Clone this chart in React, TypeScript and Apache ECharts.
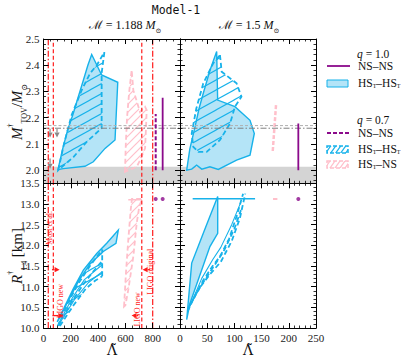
import React, { useEffect, useRef } from 'react';
import * as echarts from 'echarts';

// ---------------- data ----------------
const TITLE = 'Model-1';
const CHIRP_MASSES = ['1.188', '1.5'];

const LEFT_X = { min: 0, max: 1000, interval: 200, minor: 4 };
const RIGHT_X = { min: 0, max: 250, interval: 50, minor: 5 };
const MTOV_Y = { min: 1.95, max: 2.5 };
const R14_Y = { min: 10.0, max: 13.5, interval: 0.5 };

// top-left (M = 1.188): [Lambda, M_TOV]
const TL_Q10_HSHS: number[][] = [[106, 2.002], [140, 2.08], [175, 2.15], [218, 2.216], [255, 2.28], [292, 2.343], [325, 2.4], [353, 2.441], [426, 2.363], [544, 2.335], [524, 2.115], [451, 2.083], [365, 2.032], [304, 2.015], [145, 2.006]];
const TL_Q07_HSHS: number[][] = [[108, 2.0], [150, 2.1], [206, 2.21], [280, 2.305], [341, 2.369], [390, 2.4], [446, 2.45], [426, 2.37], [426, 2.16], [320, 2.11], [219, 2.05]];
const TL_Q07_HSNS: number[][] = [[597, 1.994], [603, 2.1], [612, 2.2], [628, 2.3], [646, 2.382], [658, 2.305], [707, 2.222], [744, 2.242], [756, 2.229], [750, 2.15], [744, 2.083], [707, 2.038], [683, 2.013]];
const TL_NSNS_Q10: number[][] = [[873, 2.0], [873, 2.276]];
const TL_NSNS_Q07: number[][] = [[822, 2.0], [822, 2.214]];
const TL_GRAY_ARROWS: number[][] = [[48, 2.158, 48, 2.125], [99, 2.158, 99, 2.125], [48, 2.045, 48, 2.005]];

// top-right (M = 1.5)
const TR_Q10_HSHS: number[][] = [[12.3, 2.0], [18, 2.08], [27.6, 2.165], [35, 2.235], [42.8, 2.293], [55, 2.38], [67.4, 2.452], [69.2, 2.267], [101, 2.242], [128.7, 2.19], [136.6, 2.14], [128.7, 2.057], [104, 2.038], [70.4, 2.003], [55, 2.013], [40, 2.004], [30.6, 2.019], [21.5, 2.004]];
const TR_Q07_HSHS: number[][] = [[73.5, 2.439], [76.6, 2.375], [104, 2.331], [113, 2.28], [101, 2.242], [92, 2.178], [73.5, 2.115], [49, 2.07], [33.7, 2.07], [24.4, 2.089], [21.5, 2.14], [30, 2.235], [42.8, 2.331], [61, 2.407]];
const TR_Q07_HSNS: number[][] = [[176.5, 2.248], [170.4, 2.07]];
const TR_NSNS_Q10: number[][] = [[217.5, 2.0], [217.5, 2.178]];

// lower limits band and max-mass lines
const MMAX_BAND = [1.95, 2.013];
const MMAX_LINES = [2.17, 2.16];

// bottom-left (M = 1.188): [Lambda, R_1.4]
const BL_Q10_HSHS: number[][] = [[100, 10.15], [145, 10.45], [218, 10.95], [292, 11.4], [390, 11.8], [463, 12.05], [548, 12.37], [531, 12.05], [438, 11.85], [341, 11.55], [260, 11.15], [180, 10.65], [120, 10.25]];
const BL_Q07_D1: number[][] = [[105, 10.05], [180, 10.62], [260, 11.1], [340, 11.5], [430, 11.9]];
const BL_Q07_D2: number[][] = [[110, 10.05], [200, 10.6], [290, 11.05], [360, 11.35], [430, 11.62]];
const BL_Q07_D3: number[][] = [[120, 10.05], [220, 10.55], [310, 10.95], [380, 11.15], [430, 11.25]];
const BL_Q07_V: number[][] = [[430, 11.25], [430, 11.9]];
const BL_Q10_S1: number[][] = [[110, 10.1], [210, 10.72], [300, 11.17], [430, 11.53]];
const BL_Q10_S2: number[][] = [[115, 10.1], [230, 10.7], [330, 11.1], [430, 11.36]];
const BL_Q07_HSNS: number[][] = [[590, 10.52], [604, 11.33], [621, 12.13], [639, 12.86], [648, 13.12], [720, 13.12], [700, 12.9], [683, 12.54], [658, 11.73], [621, 10.92], [600, 10.55]];
const BL_Q07_HSNS_CAP: number[][] = [[621, 13.1], [720, 13.1]];
const BL_NSNS: number[][] = [[822, 13.12], [873, 13.12]];

// bottom-right (M = 1.5)
const BR_Q10_HSHS: number[][] = [[12.3, 10.2], [21.5, 11.57], [42.8, 12.29], [69.3, 13.18], [69.3, 12.29], [55, 11.97], [18.4, 10.6]];
const BR_Q10_CAP: number[][] = [[23.3, 13.125], [138, 13.125]];
const BR_Q07_D1: number[][] = [[14, 10.4], [30, 10.85], [43, 11.16], [60, 11.5], [73.5, 11.73], [90, 12.15], [104, 12.7], [116, 13.25]];
const BR_Q07_D2: number[][] = [[16, 10.5], [35, 10.95], [55, 11.3], [75, 11.6], [95, 12.1], [110, 12.65], [120, 13.25]];
const BR_Q07_D3: number[][] = [[18, 10.55], [40, 11.05], [60, 11.45], [80, 11.85], [100, 12.4], [112, 12.85]];
const BR_Q10_S1: number[][] = [[14, 10.4], [40, 11.2], [60, 11.65], [75, 11.95], [95, 12.5], [112, 13.05]];
const BR_Q07_HSNS: number[][] = [[171, 13.12], [179, 13.12]];
const BR_NSNS: number[][] = [[217.5, 13.12]];

// observational constraints (Lambda)
const RED_LINES: { x: number; dash: 'dd' | 'd' }[] = [{ x: 35, dash: 'dd' }, { x: 72, dash: 'd' }, { x: 720, dash: 'd' }, { x: 800, dash: 'dd' }];
const RED_ARROWS: number[][] = [[62, 11.41, 118, 11.41], [65, 10.3, 145, 10.3], [780, 11.41, 726, 11.41], [695, 10.3, 645, 10.3]];
const RED_LABELS: { t: string; x: number; y: number }[] = [
  { t: 'Most et al.', x: 47, y: 12.42 },
  { t: 'LIGO new', x: 121, y: 10.65 },
  { t: 'LIGO new', x: 688, y: 10.45 },
  { t: 'LIGO original', x: 784, y: 11.36 },
];

// ---------------- style ----------------
const SERIF = '"Liberation Serif", "DejaVu Serif", serif';
const BLUE = '#17b2ea';
const BLUE_FILL = '#b4e4f7';
const PINK = '#ffbfca';
const PURPLE = '#8b0a8b';
const RED = '#ff1a1a';
const DASH = [5, 3];
const DASHDOT = [6, 2, 1.5, 2];

const GRIDS = [
  { left: 43.5, top: 39, width: 136.5, height: 144.3 },
  { left: 180, top: 39, width: 136, height: 144.3 },
  { left: 43.5, top: 183.3, width: 136.5, height: 144.7 },
  { left: 180, top: 183.3, width: 136, height: 144.7 },
];

function makeHatch(color: string, w: number, h: number, lw: number) {
  const c = document.createElement('canvas');
  c.width = w;
  c.height = h;
  const ctx = c.getContext('2d')!;
  ctx.strokeStyle = color;
  ctx.lineWidth = lw;
  for (let k = -1; k <= 1; k++) {
    ctx.beginPath();
    ctx.moveTo((k - 1) * w, 2 * h);
    ctx.lineTo((k + 2) * w, -h);
    ctx.stroke();
  }
  return { image: c.toDataURL(), repeat: 'repeat', imageWidth: w, imageHeight: h } as any;
}

function buildOption() {
  const blueHatch = makeHatch(BLUE, 18, 10, 1.1);
  const pinkHatch = makeHatch(PINK, 8, 8, 1.2);

  const xAxes: any[] = [];
  const yAxes: any[] = [];
  GRIDS.forEach((_, g) => {
    const xr = g % 2 === 0 ? LEFT_X : RIGHT_X;
    const top = g < 2;
    const common = {
      type: 'value', gridIndex: g, z: 10,
      axisLine: { show: true, onZero: false, lineStyle: { color: '#000', width: 1 } },
      axisTick: { show: true, inside: true, length: 5, lineStyle: { color: '#000', width: 1 } },
      minorTick: { show: true, length: 2.5, lineStyle: { color: '#000', width: 0.8 } },
      splitLine: { show: false },
      minorSplitLine: { show: false },
    };
    [0, 1].forEach((k) => {
      xAxes.push({
        ...common,
        position: k === 0 ? 'bottom' : 'top',
        min: xr.min, max: xr.max, interval: xr.interval,
        minorTick: { ...common.minorTick, splitNumber: xr.minor },
        axisLabel: {
          show: k === 0 && !top, fontFamily: SERIF, fontSize: 11, color: '#222', margin: 4,
          showMaxLabel: g % 2 === 1,
        },
      });
    });
    [0, 1].forEach((k) => {
      const ycfg: any = top
        ? { min: MTOV_Y.min, max: MTOV_Y.max, splitNumber: 5 }
        : { min: R14_Y.min, max: R14_Y.max, interval: R14_Y.interval };
      yAxes.push({
        ...common,
        ...ycfg,
        position: k === 0 ? 'left' : 'right',
        minorTick: { ...common.minorTick, splitNumber: 5 },
        axisLabel: {
          show: k === 0 && g % 2 === 0, fontFamily: SERIF, fontSize: 11, color: '#222', margin: 4,
          showMinLabel: !top, formatter: (v: number) => v.toFixed(1),
        },
      });
    });
  });

  const series: any[] = [];
  const ax = (g: number) => ({ xAxisIndex: 2 * g, yAxisIndex: 2 * g });

  const poly = (g: number, pts: number[][], style: any, z: number) => {
    series.push({
      type: 'custom', ...ax(g), z, silent: true, data: [pts[0]],
      renderItem: (_p: any, api: any) => ({
        type: 'polygon', shape: { points: pts.map((p) => api.coord(p)) }, style,
      }),
    });
  };
  const line = (g: number, pts: number[][], color: string, width: number, type: any, z: number) => {
    series.push({
      type: 'line', ...ax(g), z, silent: true, data: pts, symbol: 'none', showSymbol: false,
      lineStyle: { color, width, type }, animation: false,
    });
  };
  const dots = (g: number, pts: number[][], color: string, size: number) => {
    series.push({ type: 'scatter', ...ax(g), z: 6, silent: true, data: pts, symbol: 'circle', symbolSize: size, itemStyle: { color } });
  };
  const arrows = (g: number, data: number[][], color: string, lw: number) => {
    series.push({
      type: 'custom', ...ax(g), z: 7, silent: true, data,
      renderItem: (_p: any, api: any) => {
        const a = api.coord([api.value(0), api.value(1)]);
        const b = api.coord([api.value(2), api.value(3)]);
        const ang = Math.atan2(b[1] - a[1], b[0] - a[0]);
        const c = Math.cos(ang), s = Math.sin(ang);
        const hl = 5, hw = 2.6;
        const bx = b[0] - hl * c, by = b[1] - hl * s;
        return {
          type: 'group',
          children: [
            { type: 'line', shape: { x1: a[0], y1: a[1], x2: bx, y2: by }, style: { stroke: color, lineWidth: lw } },
            { type: 'polygon', shape: { points: [b, [bx - hw * s, by + hw * c], [bx + hw * s, by - hw * c]] }, style: { fill: color } },
          ],
        };
      },
    });
  };

  // gray band + max-mass lines (top panels)
  [0, 1].forEach((g) => {
    const xr = g === 0 ? LEFT_X : RIGHT_X;
    poly(g, [[xr.min, MMAX_BAND[0]], [xr.max, MMAX_BAND[0]], [xr.max, MMAX_BAND[1]], [xr.min, MMAX_BAND[1]]], { fill: '#d4d4d4' }, 1);
    line(g, [[xr.min, MMAX_LINES[0]], [xr.max, MMAX_LINES[0]]], '#b0b0b0', 1, [3, 2], 5);
    line(g, [[xr.min, MMAX_LINES[1]], [xr.max, MMAX_LINES[1]]], '#808080', 1, DASHDOT, 5);
  });

  // top-left
  poly(0, TL_Q10_HSHS, { fill: BLUE_FILL, stroke: BLUE, lineWidth: 1.4 }, 2);
  poly(0, TL_Q07_HSHS, { fill: blueHatch, stroke: BLUE, lineWidth: 1.8, lineDash: DASH }, 3);
  poly(0, TL_Q07_HSNS, { fill: pinkHatch, stroke: PINK, lineWidth: 1.8, lineDash: DASH }, 3);
  line(0, TL_NSNS_Q10, PURPLE, 1.8, 'solid', 6);
  line(0, TL_NSNS_Q07, PURPLE, 2, [4, 2], 6);
  arrows(0, TL_GRAY_ARROWS, '#8a8a8a', 1.2);

  // top-right
  poly(1, TR_Q10_HSHS, { fill: BLUE_FILL, stroke: BLUE, lineWidth: 1.4 }, 2);
  poly(1, TR_Q07_HSHS, { fill: blueHatch, stroke: BLUE, lineWidth: 1.8, lineDash: DASH }, 3);
  line(1, TR_Q07_HSNS, PINK, 2.5, [4, 2], 4);
  line(1, TR_NSNS_Q10, PURPLE, 1.8, 'solid', 6);

  // bottom-left
  poly(2, BL_Q10_HSHS, { fill: BLUE_FILL, stroke: BLUE, lineWidth: 1.4 }, 2);
  poly(2, [...BL_Q07_D1, ...[...BL_Q07_D3].reverse()], { fill: blueHatch }, 3);
  [BL_Q07_D1, BL_Q07_D2, BL_Q07_D3, BL_Q07_V].forEach((p) => line(2, p, BLUE, 1.8, DASH, 4));
  [BL_Q10_S1, BL_Q10_S2].forEach((p) => line(2, p, BLUE, 1.1, 'solid', 4));
  poly(2, BL_Q07_HSNS, { fill: pinkHatch, stroke: PINK, lineWidth: 1.8, lineDash: DASH }, 3);
  line(2, BL_Q07_HSNS_CAP, PINK, 1.5, 'solid', 4);
  dots(2, BL_NSNS, PURPLE, 4);

  // bottom-right
  poly(3, BR_Q10_HSHS, { fill: BLUE_FILL, stroke: BLUE, lineWidth: 1.4 }, 2);
  line(3, BR_Q10_CAP, BLUE, 1.5, 'solid', 4);
  [BR_Q07_D1, BR_Q07_D2, BR_Q07_D3].forEach((p) => line(3, p, BLUE, 1.8, DASH, 4));
  line(3, BR_Q10_S1, BLUE, 1.1, 'solid', 4);
  line(3, BR_Q07_HSNS, PINK, 2, 'solid', 4);
  dots(3, BR_NSNS, PURPLE, 4);

  // red constraints on left panels
  [0, 2].forEach((g) => {
    const yr = g === 0 ? [MTOV_Y.min, MTOV_Y.max] : [R14_Y.min, R14_Y.max];
    RED_LINES.forEach((r) => line(g, [[r.x, yr[0]], [r.x, yr[1]]], RED, 1.2, r.dash === 'dd' ? DASHDOT : [4, 2.5], 8));
  });
  arrows(2, RED_ARROWS, RED, 1.3);
  series.push({
    type: 'custom', ...ax(2), z: 9, silent: true, data: RED_LABELS.map((l) => [l.x, l.y]),
    renderItem: (p: any, api: any) => {
      const c = api.coord([api.value(0), api.value(1)]);
      return {
        type: 'text', x: c[0], y: c[1], rotation: Math.PI / 2,
        style: { text: RED_LABELS[p.dataIndex].t, fill: RED, fontFamily: SERIF, fontSize: 8, align: 'center', verticalAlign: 'middle' },
      };
    },
  });

  // ----- graphics: titles, axis names, legend -----
  const rich = (fs: number, lh: number) => ({
    n: { fontFamily: SERIF, fontSize: fs, lineHeight: lh, fill: '#111' },
    i: { fontFamily: SERIF, fontSize: fs, fontStyle: 'italic', lineHeight: lh, fill: '#111' },
    sup: { fontFamily: SERIF, fontSize: Math.round(fs * 0.55), lineHeight: Math.round(lh * 0.45), verticalAlign: 'top', fill: '#111' },
    sub: { fontFamily: SERIF, fontSize: Math.round(fs * 0.55), lineHeight: Math.round(lh * 0.45), verticalAlign: 'bottom', fill: '#111' },
  });
  const txt = (x: number, y: number, text: string, fs: number, lh: number, align = 'left', rotation = 0) => ({
    type: 'text', x, y, rotation,
    style: { text, rich: rich(fs, lh), align, verticalAlign: 'middle' },
  });

  const graphic: any[] = [
    { type: 'text', x: 176, y: 10, style: { text: TITLE, fontFamily: '"DejaVu Sans Mono", "Liberation Mono", monospace', fontSize: 11.5, fill: '#111', align: 'center', verticalAlign: 'middle' } },
    txt(125, 25, `{n|ℳ = ${CHIRP_MASSES[0]} }{i|M}{sub|⊙}`, 12, 18, 'center'),
    txt(249, 25, `{n|ℳ = ${CHIRP_MASSES[1]} }{i|M}{sub|⊙}`, 12, 18, 'center'),
    txt(17, 112, '{i|M}{sup|†}{sub|TOV}{n|/}{i|M}{sub|⊙}', 15, 22, 'center', Math.PI / 2),
    txt(17, 256, '{i|R}{sup|†}{sub|1.4}{n| [km]}', 15, 22, 'center', Math.PI / 2),
    { type: 'text', x: 112, y: 350, style: { text: 'Λ̃', fontFamily: '"DejaVu Serif", serif', fontSize: 14, fill: '#111', align: 'center', verticalAlign: 'middle' } },
    { type: 'text', x: 248, y: 350, style: { text: 'Λ̃', fontFamily: '"DejaVu Serif", serif', fontSize: 14, fill: '#111', align: 'center', verticalAlign: 'middle' } },
    // legend
    txt(357, 54, '{i|q}{n| = 1.0}', 11.5, 11),
    { type: 'line', shape: { x1: 327, y1: 66, x2: 350, y2: 66 }, style: { stroke: PURPLE, lineWidth: 1.8 } },
    txt(358, 66, '{n|NS–NS}', 11.5, 11),
    { type: 'rect', shape: { x: 327, y: 80, width: 21, height: 7 }, style: { fill: BLUE_FILL, stroke: BLUE, lineWidth: 1 } },
    txt(358, 83, '{n|HS}{sub|T}{n|–HS}{sub|T}', 11.5, 11),
    txt(357, 120, '{i|q}{n| = 0.7}', 11.5, 11),
    { type: 'line', shape: { x1: 327, y1: 133, x2: 350, y2: 133 }, style: { stroke: PURPLE, lineWidth: 1.8, lineDash: [4, 2] } },
    txt(358, 133, '{n|NS–NS}', 11.5, 11),
    { type: 'rect', shape: { x: 327, y: 146, width: 21, height: 7 }, style: { fill: makeHatch(BLUE, 5, 7, 1.3), stroke: BLUE, lineWidth: 1.5, lineDash: [4, 2] } },
    txt(358, 149, '{n|HS}{sub|T}{n|–HS}{sub|T}', 11.5, 11),
    { type: 'rect', shape: { x: 327, y: 161, width: 21, height: 7 }, style: { fill: makeHatch(PINK, 5, 7, 1.3), stroke: PINK, lineWidth: 1.5, lineDash: [4, 2] } },
    txt(358, 164, '{n|HS}{sub|T}{n|–NS}', 11.5, 11),
  ];

  return {
    animation: false,
    backgroundColor: '#fff',
    grid: GRIDS.map((g) => ({ ...g, containLabel: false })),
    xAxis: xAxes,
    yAxis: yAxes,
    series,
    graphic,
  };
}

export default function App() {
  const ref = useRef<HTMLDivElement>(null);
  useEffect(() => {
    const chart = echarts.init(ref.current!, undefined, { renderer: 'svg' });
    chart.setOption(buildOption() as any);
    return () => chart.dispose();
  }, []);
  return <div ref={ref} style={{ position: 'fixed', left: 0, top: 0, width: 411, height: 359, background: '#fff' }} />;
}
